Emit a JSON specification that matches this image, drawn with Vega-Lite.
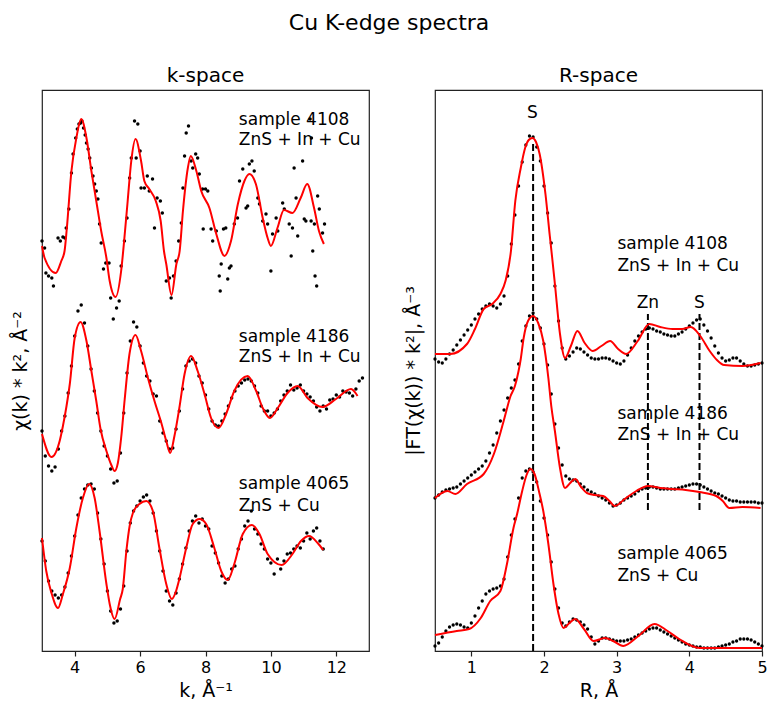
{
"$schema": "https://vega.github.io/schema/vega-lite/v6.json",
"background": "white",
"padding": {"left": 10, "top": 12, "right": 0, "bottom": 0},
"spacing": 33,
"title": {"text": "Cu K-edge spectra", "fontSize": 22, "offset": 30, "anchor": "middle"},
"config": {
 "font": "DejaVu Sans",
 "view": {"stroke": "#222", "strokeWidth": 1.2},
 "axis": {"grid": false, "domain": false, "labelFontSize": 16, "titleFontSize": 19, "titleFontWeight": "normal", "labelColor": "#000", "titleColor": "#000", "tickColor": "#222", "tickSize": 5, "tickWidth": 1.2, "labelFlush": false},
 "axisX": {"labelPadding": 3, "titlePadding": 6},
 "axisY": {"ticks": false, "labels": false, "titlePadding": 12},
 "title": {"fontSize": 20, "fontWeight": "normal", "color": "#000", "offset": 4},
 "text": {"font": "DejaVu Sans", "color": "#000"}
},
"datasets": {
 "kfit": [
  {"s":"a","k":3.0,"v":405},{"s":"a","k":3.08,"v":393},{"s":"a","k":3.42,"v":378},{"s":"a","k":3.59,"v":390},{"s":"a","k":3.69,"v":400},{"s":"a","k":3.76,"v":423},{"s":"a","k":3.9,"v":480},{"s":"a","k":4.05,"v":513},{"s":"a","k":4.2,"v":532},{"s":"a","k":4.36,"v":513},{"s":"a","k":4.51,"v":480},{"s":"a","k":4.66,"v":450},{"s":"a","k":4.81,"v":420},{"s":"a","k":4.97,"v":393},{"s":"a","k":5.07,"v":370},{"s":"a","k":5.25,"v":354},{"s":"a","k":5.42,"v":380},{"s":"a","k":5.52,"v":413},{"s":"a","k":5.62,"v":450},{"s":"a","k":5.73,"v":490},{"s":"a","k":5.86,"v":512},{"s":"a","k":6.03,"v":490},{"s":"a","k":6.13,"v":470},{"s":"a","k":6.28,"v":462},{"s":"a","k":6.48,"v":450},{"s":"a","k":6.63,"v":430},{"s":"a","k":6.73,"v":400},{"s":"a","k":6.8,"v":387},{"s":"a","k":6.96,"v":356},{"s":"a","k":7.11,"v":387},{"s":"a","k":7.21,"v":400},{"s":"a","k":7.31,"v":440},{"s":"a","k":7.46,"v":483},{"s":"a","k":7.55,"v":495},{"s":"a","k":7.72,"v":480},{"s":"a","k":7.87,"v":460},{"s":"a","k":8.12,"v":443},{"s":"a","k":8.33,"v":417},{"s":"a","k":8.58,"v":395},{"s":"a","k":8.78,"v":410},{"s":"a","k":8.99,"v":447},{"s":"a","k":9.19,"v":470},{"s":"a","k":9.34,"v":477},{"s":"a","k":9.54,"v":467},{"s":"a","k":9.75,"v":433},{"s":"a","k":9.9,"v":413},{"s":"a","k":10.0,"v":405},{"s":"a","k":10.2,"v":423},{"s":"a","k":10.4,"v":441},{"s":"a","k":10.66,"v":438},{"s":"a","k":10.91,"v":453},{"s":"a","k":11.11,"v":467},{"s":"a","k":11.32,"v":443},{"s":"a","k":11.47,"v":420},{"s":"a","k":11.62,"v":407},
  {"s":"b","k":3.0,"v":217},{"s":"b","k":3.29,"v":194},{"s":"b","k":3.54,"v":210},{"s":"b","k":3.64,"v":225},{"s":"b","k":3.75,"v":245},{"s":"b","k":3.85,"v":267},{"s":"b","k":4.0,"v":313},{"s":"b","k":4.18,"v":329},{"s":"b","k":4.36,"v":310},{"s":"b","k":4.51,"v":280},{"s":"b","k":4.66,"v":250},{"s":"b","k":4.79,"v":222},{"s":"b","k":4.97,"v":200},{"s":"b","k":5.12,"v":186},{"s":"b","k":5.22,"v":180},{"s":"b","k":5.32,"v":188},{"s":"b","k":5.42,"v":213},{"s":"b","k":5.53,"v":252},{"s":"b","k":5.68,"v":298},{"s":"b","k":5.86,"v":316},{"s":"b","k":6.03,"v":300},{"s":"b","k":6.24,"v":273},{"s":"b","k":6.44,"v":250},{"s":"b","k":6.65,"v":228},{"s":"b","k":6.8,"v":210},{"s":"b","k":6.92,"v":198},{"s":"b","k":7.05,"v":215},{"s":"b","k":7.2,"v":243},{"s":"b","k":7.36,"v":277},{"s":"b","k":7.56,"v":295},{"s":"b","k":7.76,"v":280},{"s":"b","k":7.97,"v":257},{"s":"b","k":8.17,"v":233},{"s":"b","k":8.4,"v":223},{"s":"b","k":8.63,"v":237},{"s":"b","k":8.88,"v":260},{"s":"b","k":9.29,"v":275},{"s":"b","k":9.55,"v":260},{"s":"b","k":9.75,"v":243},{"s":"b","k":9.97,"v":233},{"s":"b","k":10.21,"v":243},{"s":"b","k":10.51,"v":258},{"s":"b","k":10.82,"v":265},{"s":"b","k":11.12,"v":253},{"s":"b","k":11.58,"v":244},{"s":"b","k":11.99,"v":252},{"s":"b","k":12.45,"v":262},{"s":"b","k":12.65,"v":255},
  {"s":"c","k":3.0,"v":113},{"s":"c","k":3.13,"v":80},{"s":"c","k":3.29,"v":58},{"s":"c","k":3.49,"v":43},{"s":"c","k":3.64,"v":57},{"s":"c","k":3.85,"v":83},{"s":"c","k":4.05,"v":123},{"s":"c","k":4.25,"v":153},{"s":"c","k":4.44,"v":167},{"s":"c","k":4.61,"v":153},{"s":"c","k":4.76,"v":120},{"s":"c","k":4.97,"v":67},{"s":"c","k":5.07,"v":47},{"s":"c","k":5.22,"v":32},{"s":"c","k":5.39,"v":52},{"s":"c","k":5.47,"v":62},{"s":"c","k":5.58,"v":100},{"s":"c","k":5.68,"v":125},{"s":"c","k":5.78,"v":138},{"s":"c","k":5.98,"v":147},{"s":"c","k":6.19,"v":150},{"s":"c","k":6.39,"v":140},{"s":"c","k":6.59,"v":103},{"s":"c","k":6.8,"v":67},{"s":"c","k":6.97,"v":52},{"s":"c","k":7.1,"v":60},{"s":"c","k":7.2,"v":72},{"s":"c","k":7.41,"v":103},{"s":"c","k":7.61,"v":127},{"s":"c","k":7.82,"v":132},{"s":"c","k":8.02,"v":127},{"s":"c","k":8.27,"v":103},{"s":"c","k":8.48,"v":80},{"s":"c","k":8.68,"v":71},{"s":"c","k":8.88,"v":87},{"s":"c","k":9.14,"v":117},{"s":"c","k":9.42,"v":126},{"s":"c","k":9.65,"v":117},{"s":"c","k":9.9,"v":97},{"s":"c","k":10.33,"v":86},{"s":"c","k":10.66,"v":97},{"s":"c","k":10.92,"v":110},{"s":"c","k":11.17,"v":115},{"s":"c","k":11.43,"v":108},{"s":"c","k":11.6,"v":101}
 ],
 "kdots": [
  {"k":3.0,"v":410},{"k":3.08,"v":403},{"k":3.12,"v":378},{"k":3.2,"v":375},{"k":3.3,"v":373},{"k":3.35,"v":365},{"k":3.49,"v":413},{"k":3.56,"v":410},{"k":3.64,"v":414},{"k":3.7,"v":413},{"k":3.74,"v":423},{"k":3.82,"v":442},{"k":3.9,"v":478},{"k":3.95,"v":497},{"k":4.03,"v":513},{"k":4.08,"v":522},{"k":4.13,"v":527},{"k":4.18,"v":528},{"k":4.22,"v":530},{"k":4.27,"v":523},{"k":4.32,"v":516},{"k":4.36,"v":508},{"k":4.41,"v":502},{"k":4.46,"v":493},{"k":4.51,"v":483},{"k":4.56,"v":475},{"k":4.61,"v":467},{"k":4.66,"v":460},{"k":4.71,"v":452},{"k":4.76,"v":427},{"k":4.81,"v":408},{"k":4.88,"v":382},{"k":4.95,"v":388},{"k":5.05,"v":388},{"k":5.1,"v":353},{"k":5.18,"v":332},{"k":5.28,"v":343},{"k":5.36,"v":350},{"k":5.42,"v":385},{"k":5.52,"v":410},{"k":5.6,"v":433},{"k":5.68,"v":473},{"k":5.73,"v":493},{"k":5.83,"v":530},{"k":5.88,"v":493},{"k":5.93,"v":527},{"k":6.0,"v":500},{"k":6.03,"v":463},{"k":6.13,"v":463},{"k":6.22,"v":475},{"k":6.28,"v":460},{"k":6.38,"v":472},{"k":6.44,"v":423},{"k":6.52,"v":453},{"k":6.62,"v":450},{"k":6.68,"v":438},{"k":6.8,"v":370},{"k":6.9,"v":373},{"k":6.95,"v":353},{"k":7.02,"v":375},{"k":7.1,"v":390},{"k":7.18,"v":410},{"k":7.26,"v":428},{"k":7.31,"v":463},{"k":7.36,"v":495},{"k":7.41,"v":518},{"k":7.48,"v":525},{"k":7.56,"v":490},{"k":7.61,"v":483},{"k":7.7,"v":497},{"k":7.76,"v":493},{"k":7.81,"v":477},{"k":7.91,"v":462},{"k":7.93,"v":422},{"k":8.0,"v":462},{"k":8.07,"v":460},{"k":8.17,"v":422},{"k":8.22,"v":410},{"k":8.33,"v":420},{"k":8.42,"v":375},{"k":8.45,"v":360},{"k":8.48,"v":387},{"k":8.55,"v":422},{"k":8.62,"v":423},{"k":8.68,"v":372},{"k":8.73,"v":383},{"k":8.78,"v":385},{"k":8.88,"v":427},{"k":8.98,"v":433},{"k":9.04,"v":470},{"k":9.14,"v":482},{"k":9.24,"v":443},{"k":9.29,"v":445},{"k":9.34,"v":487},{"k":9.42,"v":490},{"k":9.49,"v":480},{"k":9.6,"v":453},{"k":9.65,"v":447},{"k":9.75,"v":430},{"k":9.85,"v":437},{"k":9.9,"v":427},{"k":10.0,"v":380},{"k":10.05,"v":417},{"k":10.16,"v":433},{"k":10.21,"v":420},{"k":10.36,"v":448},{"k":10.41,"v":442},{"k":10.56,"v":427},{"k":10.62,"v":395},{"k":10.66,"v":423},{"k":10.71,"v":483},{"k":10.77,"v":453},{"k":10.82,"v":415},{"k":10.97,"v":490},{"k":11.02,"v":432},{"k":11.07,"v":430},{"k":11.2,"v":532},{"k":11.23,"v":430},{"k":11.24,"v":513},{"k":11.28,"v":400},{"k":11.33,"v":427},{"k":11.35,"v":375},{"k":11.4,"v":365},{"k":11.43,"v":455},{"k":11.48,"v":442},{"k":11.58,"v":418},{"k":11.64,"v":427},
  {"k":3.0,"v":220},{"k":3.1,"v":195},{"k":3.2,"v":185},{"k":3.3,"v":180},{"k":3.4,"v":184},{"k":3.5,"v":202},{"k":3.6,"v":220},{"k":3.7,"v":235},{"k":3.8,"v":258},{"k":3.9,"v":285},{"k":4.0,"v":315},{"k":4.1,"v":340},{"k":4.2,"v":346},{"k":4.3,"v":328},{"k":4.4,"v":305},{"k":4.5,"v":282},{"k":4.6,"v":260},{"k":4.7,"v":238},{"k":4.8,"v":220},{"k":4.9,"v":205},{"k":5.0,"v":195},{"k":5.1,"v":182},{"k":5.2,"v":168},{"k":5.3,"v":170},{"k":5.4,"v":198},{"k":5.5,"v":238},{"k":5.6,"v":278},{"k":5.7,"v":310},{"k":5.8,"v":329},{"k":5.9,"v":324},{"k":6.0,"v":305},{"k":6.1,"v":288},{"k":6.2,"v":275},{"k":6.3,"v":270},{"k":6.4,"v":257},{"k":6.5,"v":255},{"k":6.6,"v":230},{"k":6.7,"v":218},{"k":6.8,"v":210},{"k":6.9,"v":202},{"k":7.0,"v":203},{"k":7.1,"v":222},{"k":7.2,"v":240},{"k":7.3,"v":262},{"k":7.4,"v":285},{"k":7.5,"v":290},{"k":7.6,"v":292},{"k":7.7,"v":288},{"k":7.8,"v":275},{"k":7.9,"v":268},{"k":8.0,"v":256},{"k":8.1,"v":242},{"k":8.2,"v":230},{"k":8.3,"v":226},{"k":8.4,"v":225},{"k":8.5,"v":230},{"k":8.6,"v":237},{"k":8.7,"v":245},{"k":8.8,"v":253},{"k":8.9,"v":260},{"k":9.0,"v":265},{"k":9.1,"v":268},{"k":9.2,"v":271},{"k":9.3,"v":272},{"k":9.4,"v":270},{"k":9.5,"v":265},{"k":9.6,"v":258},{"k":9.7,"v":245},{"k":9.8,"v":240},{"k":9.9,"v":240},{"k":10.0,"v":235},{"k":10.1,"v":238},{"k":10.2,"v":242},{"k":10.3,"v":250},{"k":10.4,"v":256},{"k":10.5,"v":260},{"k":10.6,"v":266},{"k":10.7,"v":261},{"k":10.8,"v":263},{"k":10.9,"v":266},{"k":11.0,"v":260},{"k":11.1,"v":257},{"k":11.2,"v":254},{"k":11.3,"v":250},{"k":11.4,"v":244},{"k":11.5,"v":240},{"k":11.6,"v":245},{"k":11.7,"v":242},{"k":11.8,"v":251},{"k":11.9,"v":252},{"k":12.0,"v":256},{"k":12.1,"v":254},{"k":12.2,"v":260},{"k":12.3,"v":259},{"k":12.4,"v":258},{"k":12.5,"v":255},{"k":12.6,"v":262},{"k":12.7,"v":270},{"k":12.8,"v":273},
  {"k":3.0,"v":110},{"k":3.1,"v":90},{"k":3.2,"v":70},{"k":3.3,"v":60},{"k":3.4,"v":56},{"k":3.5,"v":53},{"k":3.6,"v":56},{"k":3.7,"v":64},{"k":3.8,"v":78},{"k":3.9,"v":95},{"k":4.0,"v":115},{"k":4.1,"v":136},{"k":4.2,"v":153},{"k":4.3,"v":162},{"k":4.4,"v":166},{"k":4.5,"v":167},{"k":4.6,"v":162},{"k":4.7,"v":138},{"k":4.8,"v":112},{"k":4.9,"v":87},{"k":5.0,"v":60},{"k":5.1,"v":40},{"k":5.2,"v":28},{"k":5.3,"v":30},{"k":5.4,"v":42},{"k":5.5,"v":65},{"k":5.6,"v":100},{"k":5.7,"v":128},{"k":5.8,"v":140},{"k":5.9,"v":145},{"k":6.0,"v":150},{"k":6.1,"v":154},{"k":6.2,"v":156},{"k":6.3,"v":150},{"k":6.4,"v":138},{"k":6.5,"v":120},{"k":6.6,"v":100},{"k":6.7,"v":80},{"k":6.8,"v":60},{"k":6.9,"v":50},{"k":7.0,"v":46},{"k":7.1,"v":58},{"k":7.2,"v":72},{"k":7.3,"v":87},{"k":7.4,"v":103},{"k":7.5,"v":120},{"k":7.6,"v":130},{"k":7.7,"v":135},{"k":7.8,"v":128},{"k":7.9,"v":132},{"k":8.0,"v":125},{"k":8.1,"v":122},{"k":8.2,"v":105},{"k":8.3,"v":98},{"k":8.4,"v":88},{"k":8.5,"v":75},{"k":8.6,"v":68},{"k":8.7,"v":72},{"k":8.8,"v":82},{"k":8.9,"v":85},{"k":9.0,"v":102},{"k":9.1,"v":112},{"k":9.2,"v":125},{"k":9.3,"v":130},{"k":9.4,"v":140},{"k":9.5,"v":122},{"k":9.6,"v":117},{"k":9.7,"v":107},{"k":9.8,"v":102},{"k":9.9,"v":92},{"k":10.0,"v":88},{"k":10.1,"v":77},{"k":10.2,"v":92},{"k":10.3,"v":82},{"k":10.4,"v":90},{"k":10.5,"v":97},{"k":10.6,"v":98},{"k":10.7,"v":102},{"k":10.8,"v":105},{"k":10.9,"v":103},{"k":11.0,"v":110},{"k":11.1,"v":118},{"k":11.2,"v":112},{"k":11.3,"v":120},{"k":11.4,"v":123},{"k":11.5,"v":110},{"k":11.6,"v":102}
 ],
 "klab": [
  {"k":9.02,"v":531,"t":"sample 4108"},{"k":9.02,"v":511,"t":"ZnS + In + Cu"},
  {"k":9.02,"v":314,"t":"sample 4186"},{"k":9.02,"v":294,"t":"ZnS + In + Cu"},
  {"k":9.02,"v":167,"t":"sample 4065"},{"k":9.02,"v":145,"t":"ZnS + Cu"}
 ],
 "rfit": [
  {"s":"a","r":0.5,"v":297},{"s":"a","r":0.71,"v":297},{"s":"a","r":0.94,"v":307},{"s":"a","r":1.05,"v":322},{"s":"a","r":1.17,"v":342},{"s":"a","r":1.285,"v":347},{"s":"a","r":1.4,"v":357},{"s":"a","r":1.47,"v":370},{"s":"a","r":1.545,"v":400},{"s":"a","r":1.605,"v":450},{"s":"a","r":1.68,"v":483},{"s":"a","r":1.74,"v":503},{"s":"a","r":1.79,"v":511},{"s":"a","r":1.84,"v":513},{"s":"a","r":1.89,"v":509},{"s":"a","r":1.94,"v":497},{"s":"a","r":2.02,"v":457},{"s":"a","r":2.08,"v":415},{"s":"a","r":2.11,"v":395},{"s":"a","r":2.15,"v":367},{"s":"a","r":2.22,"v":317},{"s":"a","r":2.29,"v":293},{"s":"a","r":2.37,"v":305},{"s":"a","r":2.46,"v":320},{"s":"a","r":2.56,"v":308},{"s":"a","r":2.67,"v":300},{"s":"a","r":2.79,"v":305},{"s":"a","r":2.91,"v":310},{"s":"a","r":3.02,"v":302},{"s":"a","r":3.13,"v":297},{"s":"a","r":3.29,"v":310},{"s":"a","r":3.45,"v":327},{"s":"a","r":3.6,"v":324},{"s":"a","r":3.77,"v":322},{"s":"a","r":3.9,"v":322},{"s":"a","r":4.02,"v":324},{"s":"a","r":4.15,"v":315},{"s":"a","r":4.28,"v":300},{"s":"a","r":4.38,"v":291},{"s":"a","r":4.48,"v":286},{"s":"a","r":4.73,"v":285},{"s":"a","r":4.98,"v":288},
  {"s":"b","r":0.5,"v":153},{"s":"b","r":0.67,"v":160},{"s":"b","r":0.78,"v":157},{"s":"b","r":0.94,"v":167},{"s":"b","r":1.17,"v":177},{"s":"b","r":1.31,"v":197},{"s":"b","r":1.445,"v":230},{"s":"b","r":1.54,"v":255},{"s":"b","r":1.6,"v":265},{"s":"b","r":1.65,"v":280},{"s":"b","r":1.68,"v":292},{"s":"b","r":1.72,"v":313},{"s":"b","r":1.78,"v":330},{"s":"b","r":1.85,"v":335},{"s":"b","r":1.92,"v":328},{"s":"b","r":1.99,"v":310},{"s":"b","r":2.06,"v":273},{"s":"b","r":2.1,"v":245},{"s":"b","r":2.15,"v":220},{"s":"b","r":2.22,"v":183},{"s":"b","r":2.29,"v":163},{"s":"b","r":2.36,"v":168},{"s":"b","r":2.43,"v":172},{"s":"b","r":2.51,"v":164},{"s":"b","r":2.59,"v":158},{"s":"b","r":2.7,"v":156},{"s":"b","r":2.815,"v":155},{"s":"b","r":2.9,"v":150},{"s":"b","r":2.975,"v":145},{"s":"b","r":3.11,"v":152},{"s":"b","r":3.27,"v":160},{"s":"b","r":3.43,"v":165},{"s":"b","r":3.6,"v":163},{"s":"b","r":3.77,"v":162},{"s":"b","r":3.95,"v":161},{"s":"b","r":4.14,"v":159},{"s":"b","r":4.37,"v":155},{"s":"b","r":4.46,"v":150},{"s":"b","r":4.55,"v":143},{"s":"b","r":4.73,"v":144},{"s":"b","r":4.98,"v":143},
  {"s":"c","r":0.5,"v":16},{"s":"c","r":0.8,"v":20},{"s":"c","r":0.97,"v":22},{"s":"c","r":1.13,"v":33},{"s":"c","r":1.26,"v":50},{"s":"c","r":1.4,"v":60},{"s":"c","r":1.49,"v":87},{"s":"c","r":1.58,"v":123},{"s":"c","r":1.63,"v":137},{"s":"c","r":1.7,"v":160},{"s":"c","r":1.76,"v":176},{"s":"c","r":1.81,"v":182},{"s":"c","r":1.87,"v":177},{"s":"c","r":1.93,"v":160},{"s":"c","r":1.99,"v":140},{"s":"c","r":2.06,"v":107},{"s":"c","r":2.13,"v":67},{"s":"c","r":2.2,"v":37},{"s":"c","r":2.27,"v":23},{"s":"c","r":2.35,"v":28},{"s":"c","r":2.43,"v":32},{"s":"c","r":2.55,"v":22},{"s":"c","r":2.68,"v":10},{"s":"c","r":2.84,"v":13},{"s":"c","r":2.95,"v":10},{"s":"c","r":3.09,"v":5},{"s":"c","r":3.3,"v":15},{"s":"c","r":3.52,"v":27},{"s":"c","r":3.7,"v":20},{"s":"c","r":3.86,"v":12},{"s":"c","r":4.14,"v":3},{"s":"c","r":4.37,"v":3},{"s":"c","r":5.0,"v":3}
 ],
 "rdots": [
  {"r":0.5,"v":292},{"r":0.55,"v":289},{"r":0.6,"v":288},{"r":0.65,"v":292},{"r":0.7,"v":297},{"r":0.75,"v":301},{"r":0.8,"v":306},{"r":0.85,"v":311},{"r":0.9,"v":316},{"r":0.95,"v":321},
  {"r":1.0,"v":326},{"r":1.05,"v":332},{"r":1.1,"v":337},{"r":1.15,"v":342},{"r":1.2,"v":345},{"r":1.25,"v":347},{"r":1.3,"v":345},{"r":1.35,"v":343},{"r":1.4,"v":347},{"r":1.45,"v":355},
  {"r":1.5,"v":375},{"r":1.55,"v":407},{"r":1.6,"v":436},{"r":1.65,"v":465},{"r":1.7,"v":489},{"r":1.75,"v":506},{"r":1.8,"v":515},{"r":1.85,"v":514},{"r":1.9,"v":504},{"r":1.95,"v":490},
  {"r":2.0,"v":465},{"r":2.05,"v":438},{"r":2.1,"v":408},{"r":2.15,"v":365},{"r":2.2,"v":330},{"r":2.25,"v":303},{"r":2.3,"v":292},{"r":2.35,"v":295},{"r":2.4,"v":299},{"r":2.45,"v":303},
  {"r":2.5,"v":302},{"r":2.55,"v":299},{"r":2.6,"v":296},{"r":2.65,"v":293},{"r":2.7,"v":292},{"r":2.75,"v":292},{"r":2.8,"v":293},{"r":2.85,"v":293},{"r":2.9,"v":292},{"r":2.95,"v":290},
  {"r":3.0,"v":288},{"r":3.05,"v":287},{"r":3.1,"v":290},{"r":3.15,"v":296},{"r":3.2,"v":303},{"r":3.25,"v":310},{"r":3.3,"v":315},{"r":3.35,"v":319},{"r":3.4,"v":322},{"r":3.45,"v":323},
  {"r":3.5,"v":322},{"r":3.55,"v":320},{"r":3.6,"v":319},{"r":3.65,"v":317},{"r":3.7,"v":316},{"r":3.75,"v":315},{"r":3.8,"v":315},{"r":3.85,"v":317},{"r":3.9,"v":319},{"r":3.95,"v":322},
  {"r":4.0,"v":325},{"r":4.05,"v":328},{"r":4.1,"v":331},{"r":4.15,"v":332},{"r":4.2,"v":326},{"r":4.25,"v":320},{"r":4.3,"v":313},{"r":4.35,"v":305},{"r":4.4,"v":298},{"r":4.45,"v":293},
  {"r":4.5,"v":290},{"r":4.55,"v":291},{"r":4.6,"v":293},{"r":4.65,"v":293},{"r":4.7,"v":290},{"r":4.75,"v":287},{"r":4.8,"v":285},{"r":4.85,"v":285},{"r":4.9,"v":286},{"r":4.95,"v":287},{"r":5.0,"v":288},
  {"r":0.5,"v":153},{"r":0.55,"v":156},{"r":0.6,"v":159},{"r":0.65,"v":161},{"r":0.7,"v":162},{"r":0.75,"v":163},{"r":0.8,"v":164},{"r":0.85,"v":167},{"r":0.9,"v":170},{"r":0.95,"v":173},
  {"r":1.0,"v":176},{"r":1.05,"v":179},{"r":1.1,"v":182},{"r":1.15,"v":185},{"r":1.2,"v":190},{"r":1.25,"v":198},{"r":1.3,"v":206},{"r":1.35,"v":218},{"r":1.4,"v":230},{"r":1.45,"v":241},
  {"r":1.5,"v":253},{"r":1.55,"v":263},{"r":1.6,"v":271},{"r":1.65,"v":287},{"r":1.7,"v":310},{"r":1.75,"v":325},{"r":1.8,"v":335},{"r":1.85,"v":338},{"r":1.9,"v":332},{"r":1.95,"v":323},
  {"r":2.0,"v":307},{"r":2.05,"v":286},{"r":2.1,"v":257},{"r":2.15,"v":227},{"r":2.2,"v":203},{"r":2.25,"v":186},{"r":2.3,"v":175},{"r":2.35,"v":172},{"r":2.4,"v":171},{"r":2.45,"v":170},
  {"r":2.5,"v":167},{"r":2.55,"v":164},{"r":2.6,"v":161},{"r":2.65,"v":159},{"r":2.7,"v":157},{"r":2.75,"v":155},{"r":2.8,"v":153},{"r":2.85,"v":151},{"r":2.9,"v":148},{"r":2.95,"v":145},
  {"r":3.0,"v":146},{"r":3.05,"v":148},{"r":3.1,"v":151},{"r":3.15,"v":153},{"r":3.2,"v":155},{"r":3.25,"v":157},{"r":3.3,"v":160},{"r":3.35,"v":162},{"r":3.4,"v":163},{"r":3.45,"v":164},
  {"r":3.5,"v":164},{"r":3.55,"v":163},{"r":3.6,"v":162},{"r":3.65,"v":162},{"r":3.7,"v":162},{"r":3.75,"v":162},{"r":3.8,"v":162},{"r":3.85,"v":163},{"r":3.9,"v":164},{"r":3.95,"v":165},
  {"r":4.0,"v":166},{"r":4.05,"v":167},{"r":4.1,"v":167},{"r":4.15,"v":166},{"r":4.2,"v":164},{"r":4.25,"v":162},{"r":4.3,"v":160},{"r":4.35,"v":158},{"r":4.4,"v":157},{"r":4.45,"v":155},
  {"r":4.5,"v":153},{"r":4.55,"v":151},{"r":4.6,"v":150},{"r":4.65,"v":150},{"r":4.7,"v":149},{"r":4.75,"v":149},{"r":4.8,"v":149},{"r":4.85,"v":149},{"r":4.9,"v":149},{"r":4.95,"v":148},{"r":5.0,"v":148},
  {"r":0.5,"v":5},{"r":0.55,"v":8},{"r":0.6,"v":14},{"r":0.65,"v":20},{"r":0.7,"v":24},{"r":0.75,"v":26},{"r":0.8,"v":27},{"r":0.85,"v":26},{"r":0.9,"v":24},{"r":0.95,"v":23},
  {"r":1.0,"v":28},{"r":1.05,"v":35},{"r":1.1,"v":43},{"r":1.15,"v":50},{"r":1.2,"v":57},{"r":1.25,"v":60},{"r":1.3,"v":62},{"r":1.35,"v":63},{"r":1.4,"v":65},{"r":1.45,"v":72},
  {"r":1.5,"v":94},{"r":1.55,"v":116},{"r":1.6,"v":132},{"r":1.65,"v":153},{"r":1.7,"v":173},{"r":1.75,"v":180},{"r":1.8,"v":182},{"r":1.85,"v":179},{"r":1.9,"v":169},{"r":1.95,"v":150},
  {"r":2.0,"v":133},{"r":2.05,"v":116},{"r":2.1,"v":89},{"r":2.15,"v":62},{"r":2.2,"v":43},{"r":2.25,"v":28},{"r":2.3,"v":25},{"r":2.35,"v":29},{"r":2.4,"v":32},{"r":2.45,"v":31},
  {"r":2.5,"v":29},{"r":2.55,"v":26},{"r":2.6,"v":22},{"r":2.65,"v":14},{"r":2.7,"v":7},{"r":2.75,"v":10},{"r":2.8,"v":13},{"r":2.85,"v":13},{"r":2.9,"v":12},{"r":2.95,"v":11},
  {"r":3.0,"v":10},{"r":3.05,"v":10},{"r":3.1,"v":10},{"r":3.15,"v":11},{"r":3.2,"v":12},{"r":3.25,"v":14},{"r":3.3,"v":16},{"r":3.35,"v":18},{"r":3.4,"v":20},{"r":3.45,"v":22},
  {"r":3.5,"v":23},{"r":3.55,"v":23},{"r":3.6,"v":21},{"r":3.65,"v":19},{"r":3.7,"v":17},{"r":3.75,"v":15},{"r":3.8,"v":13},{"r":3.85,"v":11},{"r":3.9,"v":9},{"r":3.95,"v":7},
  {"r":4.0,"v":6},{"r":4.05,"v":5},{"r":4.1,"v":4},{"r":4.15,"v":4},{"r":4.2,"v":3},{"r":4.25,"v":3},{"r":4.3,"v":3},{"r":4.35,"v":3},{"r":4.4,"v":4},{"r":4.45,"v":5},
  {"r":4.5,"v":6},{"r":4.55,"v":7},{"r":4.6,"v":9},{"r":4.65,"v":10},{"r":4.7,"v":12},{"r":4.75,"v":12},{"r":4.8,"v":12},{"r":4.85,"v":11},{"r":4.9,"v":9},{"r":4.95,"v":7},{"r":5.0,"v":5}
 ],
 "rrules": [
  {"r":1.85,"v":0,"v2":510},{"r":3.43,"v":141,"v2":337},{"r":4.14,"v":141,"v2":337}
 ],
 "rlab": [
  {"r":3.01,"v":407,"t":"sample 4108"},{"r":3.01,"v":385,"t":"ZnS + In + Cu"},
  {"r":3.01,"v":237,"t":"sample 4186"},{"r":3.01,"v":216,"t":"ZnS + In + Cu"},
  {"r":3.01,"v":97,"t":"sample 4065"},{"r":3.01,"v":75,"t":"ZnS + Cu"}
 ],
 "rpeak": [
  {"r":1.84,"v":538,"t":"S"},{"r":3.43,"v":348,"t":"Zn"},{"r":4.14,"v":348,"t":"S"}
 ]
},
"hconcat": [
 {
  "width": 327, "height": 561,
  "title": {"text": "k-space"},
  "encoding": {
   "x": {"field": "k", "type": "quantitative", "scale": {"domain": [3, 13], "nice": false}, "axis": {"values": [4, 6, 8, 10, 12], "title": "k, Å⁻¹"}},
   "y": {"field": "v", "type": "quantitative", "scale": {"domain": [0, 561], "nice": false}, "axis": {"title": "χ(k) * k², Å⁻²"}}
  },
  "layer": [
   {"data": {"name": "kdots"}, "mark": {"type": "circle", "size": 12, "color": "#000", "opacity": 1}},
   {"data": {"name": "kfit"}, "mark": {"type": "line", "color": "#ff0000", "strokeWidth": 2, "interpolate": "monotone"}, "encoding": {"detail": {"field": "s"}}},
   {"data": {"name": "klab"}, "mark": {"type": "text", "align": "left", "baseline": "middle", "fontSize": 17}, "encoding": {"text": {"field": "t"}}}
  ]
 },
 {
  "width": 327, "height": 561,
  "title": {"text": "R-space"},
  "encoding": {
   "x": {"field": "r", "type": "quantitative", "scale": {"domain": [0.5, 5], "nice": false}, "axis": {"values": [1, 2, 3, 4, 5], "title": "R, Å"}},
   "y": {"field": "v", "type": "quantitative", "scale": {"domain": [0, 561], "nice": false}, "axis": {"title": "|FT(χ(k)) * k²|, Å⁻³"}}
  },
  "layer": [
   {"data": {"name": "rrules"}, "mark": {"type": "rule", "color": "#000", "strokeWidth": 2, "strokeDash": [7, 3]}, "encoding": {"y2": {"field": "v2"}}},
   {"data": {"name": "rdots"}, "mark": {"type": "circle", "size": 11, "color": "#000", "opacity": 1}},
   {"data": {"name": "rfit"}, "mark": {"type": "line", "color": "#ff0000", "strokeWidth": 2, "interpolate": "monotone"}, "encoding": {"detail": {"field": "s"}}},
   {"data": {"name": "rlab"}, "mark": {"type": "text", "align": "left", "baseline": "middle", "fontSize": 17}, "encoding": {"text": {"field": "t"}}},
   {"data": {"name": "rpeak"}, "mark": {"type": "text", "align": "center", "baseline": "middle", "fontSize": 17}, "encoding": {"text": {"field": "t"}}}
  ]
 }
]
}
